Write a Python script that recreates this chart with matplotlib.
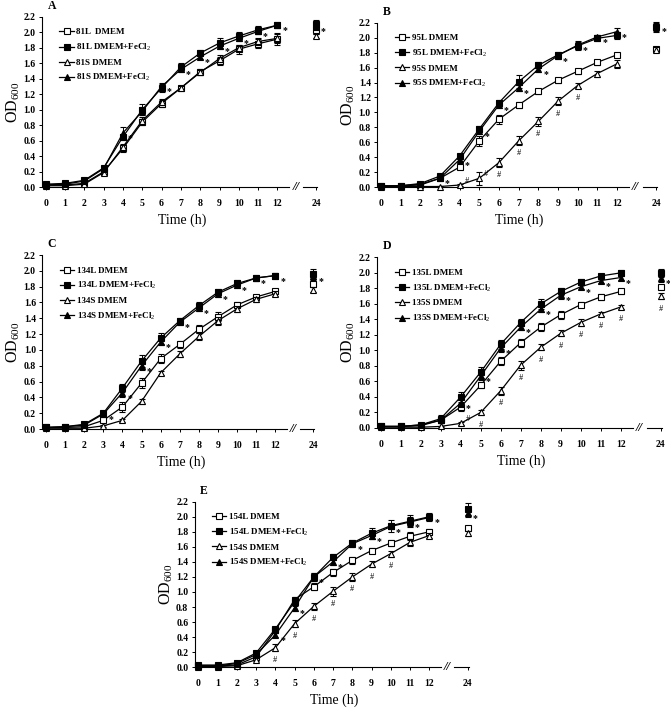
import numpy as np
import matplotlib
matplotlib.use("Agg")
import matplotlib.pyplot as plt

plt.rcParams["font.family"] = ["Liberation Serif", "DejaVu Serif"]
plt.rcParams["mathtext.fontset"] = "custom"
plt.rcParams["mathtext.rm"] = "Liberation Serif"
plt.rcParams["mathtext.it"] = "Liberation Serif:italic"
plt.rcParams["mathtext.bf"] = "Liberation Serif:bold"

HOURS = [0, 1, 2, 3, 4, 5, 6, 7, 8, 9, 10, 11, 12, 24]

# ---- panel A : strain 81 ----
a_names = ["81L  DMEM", "81L DMEM+FeCl$_2$", "81S DMEM", "81S DMEM+FeCl$_2$"]
a_l_dmem = [0.03, 0.03, 0.05, 0.20, 0.50, 0.84, 1.08, 1.28, 1.49, 1.63, 1.78, 1.85, 1.91, 2.03]
a_l_fe = [0.04, 0.05, 0.09, 0.25, 0.65, 1.00, 1.28, 1.55, 1.73, 1.86, 1.95, 2.03, 2.09, 2.10]
a_s_dmem = [0.02, 0.02, 0.04, 0.19, 0.52, 0.86, 1.10, 1.28, 1.48, 1.66, 1.80, 1.88, 1.92, 1.95]
a_s_fe = [0.03, 0.04, 0.08, 0.24, 0.70, 0.98, 1.30, 1.52, 1.68, 1.82, 1.92, 2.01, 2.09, 2.08]
a_err = [
    [0.01, 0.01, 0.01, 0.02, 0.05, 0.04, 0.05, 0.03, 0.03, 0.05, 0.06, 0.06, 0.08, 0.05],
    [0.01, 0.01, 0.01, 0.02, 0.04, 0.07, 0.05, 0.05, 0.04, 0.06, 0.05, 0.05, 0.04, 0.06],
    [0.01, 0.01, 0.01, 0.02, 0.04, 0.04, 0.04, 0.03, 0.03, 0.05, 0.04, 0.05, 0.06, 0.03],
    [0.01, 0.01, 0.01, 0.02, 0.08, 0.05, 0.05, 0.04, 0.03, 0.04, 0.04, 0.04, 0.03, 0.05],
]
a_star = [4, 6, 7, 8, 9, 10, 11, 12, 24]
a_hash = []

# ---- panel B : strain 95 ----
b_names = ["95L DMEM", "95L DMEM+FeCl$_2$", "95S DMEM", "95S DMEM+FeCl$_2$"]
b_l_dmem = [0.02, 0.02, 0.03, 0.12, 0.27, 0.62, 0.91, 1.10, 1.28, 1.43, 1.55, 1.67, 1.77, 1.85]
b_l_fe = [0.02, 0.02, 0.05, 0.15, 0.42, 0.78, 1.13, 1.41, 1.63, 1.77, 1.89, 1.99, 2.03, 2.14]
b_s_dmem = [0.01, 0.01, 0.01, 0.01, 0.03, 0.12, 0.33, 0.62, 0.88, 1.15, 1.36, 1.52, 1.65, 1.84]
b_s_fe = [0.02, 0.02, 0.04, 0.12, 0.37, 0.75, 1.10, 1.33, 1.58, 1.76, 1.90, 2.01, 2.08, 2.15]
b_err = [
    [0.01, 0.01, 0.01, 0.02, 0.03, 0.07, 0.06, 0.04, 0.03, 0.03, 0.03, 0.03, 0.03, 0.03],
    [0.01, 0.01, 0.01, 0.02, 0.03, 0.04, 0.04, 0.09, 0.04, 0.04, 0.06, 0.04, 0.05, 0.06],
    [0.01, 0.01, 0.01, 0.01, 0.01, 0.09, 0.06, 0.06, 0.06, 0.05, 0.04, 0.04, 0.05, 0.03],
    [0.01, 0.01, 0.01, 0.02, 0.03, 0.04, 0.04, 0.04, 0.04, 0.04, 0.04, 0.03, 0.05, 0.06],
]
b_star = [3, 4, 5, 6, 7, 8, 9, 10, 11, 12, 24]
b_hash = [4, 5, 6, 7, 8, 9, 10]

# ---- panel C : strain 134 ----
c_names = ["134L DMEM", "134L DMEM+FeCl$_2$", "134S DMEM", "134S DMEM+FeCl$_2$"]
c_l_dmem = [0.02, 0.02, 0.03, 0.11, 0.28, 0.58, 0.89, 1.07, 1.26, 1.42, 1.57, 1.67, 1.74, 1.83]
c_l_fe = [0.02, 0.03, 0.06, 0.20, 0.52, 0.86, 1.15, 1.37, 1.56, 1.73, 1.84, 1.91, 1.94, 1.96]
c_s_dmem = [0.01, 0.01, 0.01, 0.04, 0.11, 0.35, 0.71, 0.95, 1.17, 1.37, 1.52, 1.64, 1.71, 1.76]
c_s_fe = [0.02, 0.03, 0.05, 0.19, 0.46, 0.80, 1.10, 1.35, 1.53, 1.71, 1.82, 1.91, 1.94, 1.93]
c_err = [
    [0.01, 0.01, 0.01, 0.02, 0.06, 0.06, 0.06, 0.04, 0.05, 0.06, 0.04, 0.03, 0.03, 0.04],
    [0.01, 0.01, 0.01, 0.02, 0.05, 0.07, 0.07, 0.04, 0.04, 0.04, 0.04, 0.04, 0.03, 0.06],
    [0.01, 0.01, 0.01, 0.01, 0.02, 0.03, 0.03, 0.04, 0.05, 0.05, 0.04, 0.03, 0.03, 0.03],
    [0.01, 0.01, 0.01, 0.02, 0.05, 0.05, 0.04, 0.04, 0.04, 0.04, 0.04, 0.03, 0.03, 0.05],
]
c_star = [3, 4, 5, 6, 7, 8, 9, 10, 11, 12, 24]
c_hash = []

# ---- panel D : strain 135 ----
d_names = ["135L DMEM", "135L DMEM+FeCl$_2$", "135S DMEM", "135S DMEM+FeCl$_2$"]
d_l_dmem = [0.02, 0.02, 0.03, 0.10, 0.27, 0.55, 0.86, 1.10, 1.30, 1.46, 1.59, 1.69, 1.76, 1.82]
d_l_fe = [0.02, 0.02, 0.04, 0.12, 0.40, 0.72, 1.08, 1.36, 1.60, 1.76, 1.88, 1.96, 2.00, 2.00]
d_s_dmem = [0.01, 0.01, 0.01, 0.02, 0.06, 0.20, 0.48, 0.81, 1.04, 1.22, 1.36, 1.47, 1.56, 1.70]
d_s_fe = [0.02, 0.02, 0.04, 0.10, 0.32, 0.67, 1.03, 1.30, 1.53, 1.71, 1.82, 1.90, 1.94, 1.93]
d_err = [
    [0.01, 0.01, 0.01, 0.03, 0.05, 0.04, 0.05, 0.05, 0.05, 0.05, 0.03, 0.04, 0.03, 0.03],
    [0.01, 0.01, 0.01, 0.05, 0.07, 0.07, 0.06, 0.05, 0.06, 0.05, 0.04, 0.03, 0.04, 0.05],
    [0.01, 0.01, 0.01, 0.01, 0.02, 0.03, 0.05, 0.06, 0.04, 0.04, 0.04, 0.03, 0.03, 0.04],
    [0.01, 0.01, 0.01, 0.03, 0.05, 0.05, 0.05, 0.04, 0.04, 0.05, 0.03, 0.03, 0.03, 0.05],
]
d_star = [4, 5, 6, 7, 8, 9, 10, 11, 12, 24]
d_hash = [4, 5, 6, 7, 8, 9, 10, 11, 12, 24]

# ---- panel E : strain 154 ----
e_names = ["154L DMEM", "154L DMEM+FeCl$_2$", "154S DMEM", "154S DMEM+FeCl$_2$"]
e_l_dmem = [0.02, 0.02, 0.03, 0.14, 0.49, 0.90, 1.07, 1.26, 1.42, 1.55, 1.65, 1.74, 1.80, 1.85]
e_l_fe = [0.03, 0.03, 0.06, 0.19, 0.51, 0.87, 1.20, 1.46, 1.65, 1.78, 1.88, 1.94, 2.00, 2.10]
e_s_dmem = [0.01, 0.01, 0.02, 0.10, 0.26, 0.58, 0.81, 1.01, 1.20, 1.37, 1.51, 1.66, 1.75, 1.78]
e_s_fe = [0.02, 0.02, 0.05, 0.17, 0.43, 0.79, 1.20, 1.40, 1.64, 1.75, 1.87, 1.93, 1.99, 2.05]
e_err = [
    [0.01, 0.01, 0.01, 0.02, 0.04, 0.04, 0.05, 0.05, 0.05, 0.03, 0.04, 0.05, 0.04, 0.03],
    [0.01, 0.01, 0.01, 0.02, 0.03, 0.05, 0.05, 0.04, 0.04, 0.07, 0.08, 0.08, 0.05, 0.08],
    [0.01, 0.01, 0.01, 0.02, 0.05, 0.05, 0.05, 0.06, 0.05, 0.04, 0.04, 0.05, 0.03, 0.03],
    [0.01, 0.01, 0.01, 0.02, 0.03, 0.04, 0.05, 0.04, 0.04, 0.05, 0.04, 0.06, 0.05, 0.06],
]
e_star = [4, 5, 6, 7, 8, 9, 10, 11, 12, 24]
e_hash = [4, 5, 6, 7, 8, 9, 10]

panels = [
    ("A", a_names, [a_l_dmem, a_l_fe, a_s_dmem, a_s_fe], a_err, a_star, a_hash, [0.0624, 0.7355, 0.418, 0.241]),
    ("B", b_names, [b_l_dmem, b_l_fe, b_s_dmem, b_s_fe], b_err, b_star, b_hash, [0.5627, 0.7355, 0.4257, 0.2325]),
    ("C", c_names, [c_l_dmem, c_l_fe, c_s_dmem, c_s_fe], c_err, c_star, c_hash, [0.063, 0.394, 0.4134, 0.2458]),
    ("D", d_names, [d_l_dmem, d_l_fe, d_s_dmem, d_s_fe], d_err, d_star, d_hash, [0.5622, 0.3955, 0.4328, 0.241]),
    ("E", e_names, [e_l_dmem, e_l_fe, e_s_dmem, e_s_fe], e_err, e_star, e_hash, [0.2903, 0.0575, 0.4166, 0.234]),
]

styles = [
    {"marker": "s", "mfc": "white"},
    {"marker": "s", "mfc": "black"},
    {"marker": "^", "mfc": "white"},
    {"marker": "^", "mfc": "black"},
]


def axis_pos(h):
    # broken time axis: 24 h is drawn two units after 12 h
    h = np.asarray(h, dtype=float)
    return np.where(h > 12, 14.0, h)


x = axis_pos(HOURS)

fig = plt.figure(figsize=(6.7, 7.08), dpi=100)

for letter, names, series, errs, stars, hashes, rect in panels:
    ax = fig.add_axes(rect)
    for i, (y, e) in enumerate(zip(series, errs)):
        st = styles[i]
        kw = dict(color="black", marker=st["marker"], mfc=st["mfc"], mec="black",
                  ms=4.3, mew=0.8, ecolor="black", elinewidth=0.7, capsize=2,
                  capthick=0.7, clip_on=False, zorder=3 + i)
        ax.errorbar(x[:13], y[:13], yerr=e[:13], ls="-", lw=0.9, **kw)
        ax.errorbar(x[13:], y[13:], yerr=e[13:], ls="none", **kw)
        ax.plot([], [], color="black", lw=0.9, marker=st["marker"], mfc=st["mfc"],
                mec="black", ms=4.3, mew=0.8, label=names[i])

    # significance marks
    s_fe = np.asarray(series[3])
    s_dm = np.asarray(series[2])
    for h in stars:
        idx = HOURS.index(h)
        ax.annotate("*", (x[idx], s_fe[idx]), xytext=(3.5, -4), textcoords="offset points",
                    fontsize=7, fontweight="bold", ha="left", va="center", annotation_clip=False)
    for h in hashes:
        idx = HOURS.index(h)
        # near the baseline the mark sits beside the point instead of below it
        off = (5, 3) if s_dm[idx] < 0.15 else (0, -9)
        ax.annotate("#", (x[idx], s_dm[idx]), xytext=off, textcoords="offset points",
                    fontsize=6, ha="center", va="center", annotation_clip=False)

    ax.set_xlim(-0.2, 14.3)
    ax.set_ylim(0, 2.2)
    ax.set_yticks(np.arange(0, 2.21, 0.2))
    ax.set_yticklabels([f"{v:.1f}" for v in np.arange(0, 2.21, 0.2)])
    ax.set_xticks(list(x))
    ax.set_xticklabels([str(h) for h in HOURS])
    ax.tick_params(labelsize=7, length=2.5, width=0.7, direction="out")
    ax.tick_params(axis="y", pad=2)
    ax.tick_params(axis="x", pad=6)
    for lab in ax.get_xticklabels() + ax.get_yticklabels():
        lab.set_fontweight("bold")
    ax.spines["top"].set_visible(False)
    ax.spines["right"].set_visible(False)
    ax.spines["left"].set_linewidth(0.8)
    ax.spines["bottom"].set_linewidth(0.8)
    ax.spines["bottom"].set_bounds(-0.2, 12.6)
    # axis break
    ax.plot([13.3, 14.05], [0, 0], color="black", lw=0.8, clip_on=False)
    ax.text(12.95, 0.0, "//", fontsize=9, fontweight="bold", style="italic",
            ha="center", va="center")

    ax.set_xlabel("Time (h)", fontsize=10, labelpad=4)
    ax.set_ylabel("OD$_{600}$", fontsize=11.5, labelpad=1)
    ax.text(0.02, 1.03, letter, transform=ax.transAxes, fontsize=8.5,
            fontweight="bold", ha="left", va="bottom")

    ax.legend(loc="upper left", bbox_to_anchor=(0.04, 0.97), frameon=False,
              prop={"size": 6.5, "weight": "bold"}, handlelength=1.6,
              handletextpad=0.3, labelspacing=0.6, borderpad=0.2)

fig.savefig("out.png", dpi=100)
